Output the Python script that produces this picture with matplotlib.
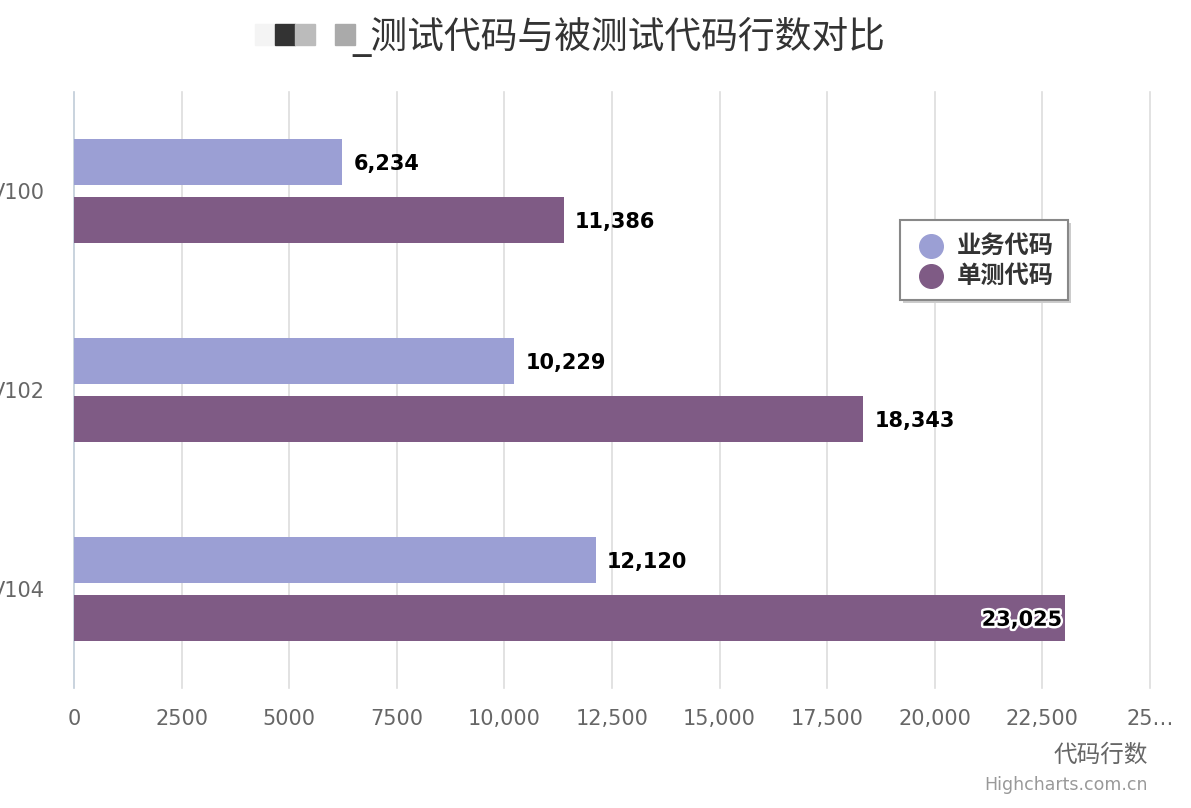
import matplotlib
matplotlib.use("Agg")
import matplotlib.pyplot as plt
import matplotlib.patheffects as pe
from matplotlib.patches import Rectangle

plt.rcParams['font.family'] = ['DejaVu Sans', 'Noto Sans CJK SC']
NUM = 'DejaVu Sans'

# data
categories = ['V100', 'V102', 'V104']
series_names = ['业务代码', '单测代码']
biz_code = [6234, 10229, 12120]
test_code = [11386, 18343, 23025]
tick_vals = [0, 2500, 5000, 7500, 10000, 12500, 15000, 17500, 20000, 22500, 25000]
tick_labels = ['0', '2500', '5000', '7500', '10,000', '12,500', '15,000',
               '17,500', '20,000', '22,500', '25…']
colors = ['#9b9fd4', '#7f5b85']

W, H = 1191, 808
fig = plt.figure(figsize=(W / 100, H / 100), dpi=100)
ax = fig.add_axes([74 / W, 1 - 688 / H, (1150 - 74) / W, (688 - 92) / H])

ys = list(range(len(categories)))
bh = 0.232
off = 0.146
ax.barh([y - off for y in ys], biz_code, height=bh, color=colors[0], zorder=3)
ax.barh([y + off for y in ys], test_code, height=bh, color=colors[1], zorder=3)

ax.set_ylim(2.5, -0.5)
ax.set_xlim(0, 25000)

# data labels
for y, v in zip(ys, biz_code):
    ax.annotate(f'{v:,}', (v, y - off), xytext=(8, -1.5), textcoords='offset points',
                va='center', ha='left', fontsize=15, fontweight='bold', color='black',
                family=NUM, zorder=5)
for y, v in zip(ys, test_code):
    if v > 22000:
        ax.annotate(f'{v:,}', (v, y + off), xytext=(-2, -1.5), textcoords='offset points',
                    va='center', ha='right', fontsize=15, fontweight='bold', color='black',
                    family=NUM, zorder=5,
                    path_effects=[pe.withStroke(linewidth=3.5, foreground='white')])
    else:
        ax.annotate(f'{v:,}', (v, y + off), xytext=(8, -1.5), textcoords='offset points',
                    va='center', ha='left', fontsize=15, fontweight='bold', color='black',
                    family=NUM, zorder=5)

ax.set_xticks(tick_vals)
ax.set_xticklabels(tick_labels, fontsize=15, color='#666666', family=NUM)
ax.set_yticks(ys)
ax.set_yticklabels(categories, fontsize=15, color='#666666', family=NUM)
ax.tick_params(axis='both', length=0)
ax.tick_params(axis='x', pad=15)
ax.tick_params(axis='y', pad=21)

for t in tick_vals[1:]:
    ax.axvline(t, color='#dddddd', linewidth=1.2, zorder=0, clip_on=False)
for s in ['top', 'right', 'bottom']:
    ax.spines[s].set_visible(False)
ax.spines['left'].set_color('#c0ccd8')
ax.spines['left'].set_linewidth(1.2)

# title with redacted prefix
for x0, x1, c in [(255, 275, '#f4f4f4'), (275, 295, '#333333'), (295, 315, '#bbbbbb'), (335, 355, '#aaaaaa')]:
    fig.patches.append(Rectangle((x0 / W, 1 - 45 / H), (x1 - x0) / W, 21 / H,
                                 transform=fig.transFigure, color=c, zorder=5))
fig.text(352 / W, 1 - 37 / H, '_测试代码与被测试代码行数对比', fontsize=26.5,
         color='#333333', ha='left', va='center')

# axis title and credits
fig.text(1148 / W, 1 - 755 / H, '代码行数', fontsize=17, color='#666666', ha='right', va='center')
fig.text(1148 / W, 1 - 785 / H, 'Highcharts.com.cn', fontsize=12.5, color='#999999',
         ha='right', va='center', family=NUM)

# legend
lx0, ly0, lx1, ly1 = 900, 220, 1068, 300
fig.patches.append(Rectangle(((lx0 + 3) / W, 1 - (ly1 + 3) / H), (lx1 - lx0) / W, (ly1 - ly0) / H,
                             transform=fig.transFigure, facecolor='#cccccc', edgecolor='none', zorder=6))
fig.patches.append(Rectangle((lx0 / W, 1 - ly1 / H), (lx1 - lx0) / W, (ly1 - ly0) / H,
                             transform=fig.transFigure, facecolor='white', edgecolor='#888888',
                             linewidth=1.5, zorder=7))
for name, c, yy in zip(series_names, colors, [246, 276]):
    fig.lines.append(plt.Line2D([931 / W], [1 - yy / H], marker='o', markersize=17, color=c,
                                linestyle='none', transform=fig.transFigure, zorder=8))
    fig.text(957 / W, 1 - yy / H, name, fontsize=17.5, fontweight='bold', color='#333333',
             ha='left', va='center', zorder=8)

fig.savefig('out.png', dpi=100)
